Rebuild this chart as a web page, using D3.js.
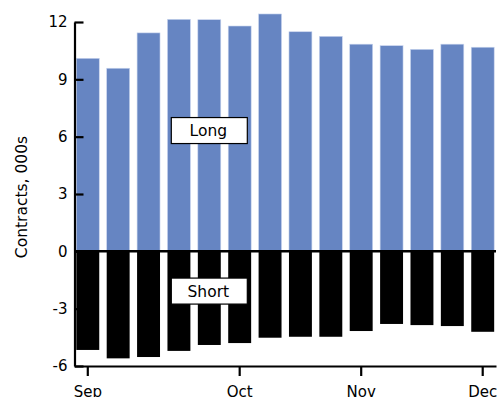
<!DOCTYPE html>
<html>
<head>
<meta charset="utf-8">
<script src="https://cdn.jsdelivr.net/npm/d3@7"></script>
<style>
  html, body { margin: 0; padding: 0; background: #fff; }
  svg { display: block; font-family: "DejaVu Sans", Verdana, sans-serif; }
</style>
</head>
<body>
<svg id="chart" width="499" height="397"></svg>
<script>
// Weekly positioning (thousands of contracts)
const weeks = ["2014-09-01","2014-09-08","2014-09-15","2014-09-22","2014-09-29",
               "2014-10-06","2014-10-13","2014-10-20","2014-10-27",
               "2014-11-03","2014-11-10","2014-11-17","2014-11-24","2014-12-01"];
const longValues  = [10.10, 9.58, 11.43, 12.14, 12.12, 11.79, 12.42, 11.49, 11.25, 10.84, 10.76, 10.57, 10.84, 10.68];
const shortValues = [-5.16, -5.60, -5.53, -5.21, -4.90, -4.80, -4.52, -4.47, -4.47, -4.17, -3.80, -3.86, -3.91, -4.21];
const yTicks = [-6, -3, 0, 3, 6, 9, 12];
const xTickWeeks = ["2014-09-01","2014-10-06","2014-11-03","2014-12-01"];
const xTickLabels = ["Sep","Oct","Nov","Dec"];
const seriesLabels = [
  {text: "Long",  week: "2014-09-29", value: 6.32},
  {text: "Short", week: "2014-09-29", value: -2.08}
];

(function () {
const svg = d3.select("#chart");
const mLeft = 74.5, mRight = 496, mTop = 22, mBottom = 366;

const x = d3.scaleBand().domain(weeks).range([mLeft, mRight]).paddingInner(0.245).paddingOuter(0.06);
const y = d3.scaleLinear().domain([-6, 12]).range([mBottom, mTop]);

// Long bars
svg.append("g").selectAll("rect").data(weeks).join("rect")
  .attr("x", d => x(d))
  .attr("width", x.bandwidth())
  .attr("y", (d, i) => y(longValues[i]))
  .attr("height", (d, i) => y(0) - y(longValues[i]))
  .attr("fill", "#6685c2")
  .attr("stroke", "#c9d5ee")
  .attr("stroke-width", 0.6);

// Short bars
svg.append("g").selectAll("rect").data(weeks).join("rect")
  .attr("x", d => x(d))
  .attr("width", x.bandwidth())
  .attr("y", y(0))
  .attr("height", (d, i) => y(shortValues[i]) - y(0))
  .attr("fill", "#000");

// Zero line
svg.append("line")
  .attr("x1", mLeft).attr("x2", mRight)
  .attr("y1", y(0)).attr("y2", y(0))
  .attr("stroke", "#000").attr("stroke-width", 2.5);

// Y axis
const yAxis = svg.append("g")
  .attr("transform", `translate(${mLeft},0)`)
  .call(d3.axisLeft(y).tickValues(yTicks).tickSizeInner(-9).tickSizeOuter(0).tickPadding(7).tickFormat(d => String(d)));
yAxis.select(".domain").attr("stroke-width", 2.2);
yAxis.selectAll(".tick line").attr("stroke-width", 2.2);
yAxis.selectAll("text").attr("font-size", 15).attr("font-family", "DejaVu Sans, Verdana, sans-serif").attr("fill", "#000");

// X axis
const tickMap = new Map(xTickWeeks.map((w, i) => [w, xTickLabels[i]]));
const xAxis = svg.append("g")
  .attr("transform", `translate(0,${mBottom})`)
  .call(d3.axisBottom(x).tickValues(xTickWeeks).tickSizeInner(10).tickSizeOuter(0).tickPadding(10).tickFormat(d => tickMap.get(d)));
xAxis.select(".domain").attr("stroke-width", 2.2);
xAxis.selectAll(".tick line").attr("stroke-width", 2.2);
xAxis.selectAll("text").attr("font-size", 15).attr("font-family", "DejaVu Sans, Verdana, sans-serif").attr("fill", "#000");

// Y axis title
svg.append("text")
  .attr("transform", `translate(27,${(mTop + mBottom) / 2 + 3}) rotate(-90)`)
  .attr("text-anchor", "middle")
  .attr("font-size", 15.5)
  .text("Contracts, 000s");

// Series labels
const boxW = 76, boxH = 26;
seriesLabels.forEach(l => {
  const cx = x(l.week) + x.bandwidth() / 2;
  const cy = y(l.value);
  const g = svg.append("g");
  g.append("rect")
    .attr("x", cx - boxW / 2).attr("y", cy - boxH / 2)
    .attr("width", boxW).attr("height", boxH)
    .attr("fill", "#fff").attr("stroke", "#000").attr("stroke-width", 1.2);
  g.append("text")
    .attr("x", cx - 1).attr("y", cy)
    .attr("dy", "0.35em")
    .attr("text-anchor", "middle")
    .attr("font-size", 15.5)
    .text(l.text);
});
})();
</script>
</body>
</html>
